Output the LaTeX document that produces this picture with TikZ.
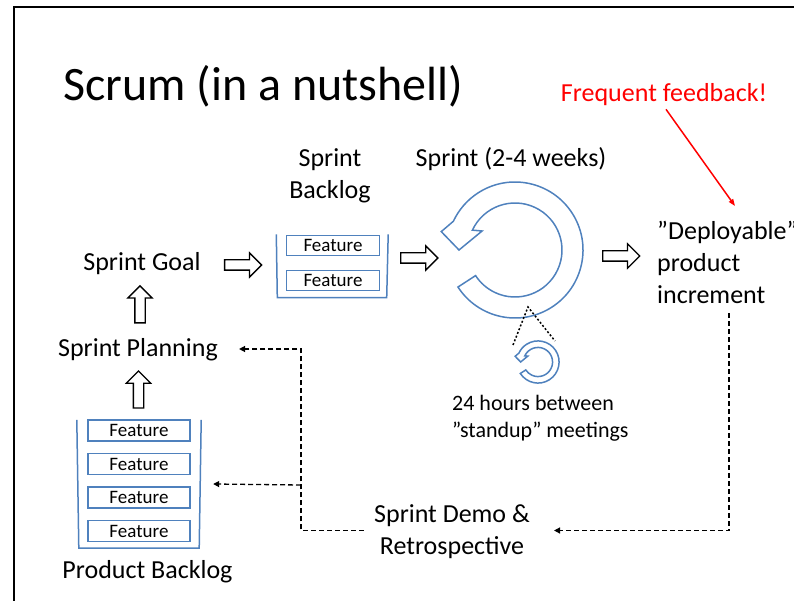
\documentclass[tikz,border=0pt]{standalone}
\usepackage{fontspec}
\setmainfont{Carlito}
\usetikzlibrary{arrows.meta, shapes.arrows, positioning, calc}

\definecolor{sprintblue}{RGB}{79,129,189}

\begin{document}
\begin{tikzpicture}[x=1pt, y=-1pt,
  txt/.style={inner sep=3pt, font=\fontsize{26}{32}\selectfont, align=center},
  feature/.style={draw=sprintblue, line width=1.5pt, minimum width=93pt, minimum height=20pt, inner sep=0pt, font=\fontsize{19}{20}\selectfont},
  bigarrow/.style={single arrow, draw, line width=1.3pt, minimum height=37pt, inner xsep=0pt, inner ysep=4.5pt, single arrow head extend=7pt, single arrow head indent=0pt},
  flow/.style={line width=1.3pt, dash pattern=on 5pt off 3pt, -{Triangle[length=6pt, width=6pt]}},
  callout/.style={line width=1.5pt, dash pattern=on 2pt off 2pt},
  cyclearrow/.pic={
    \draw[y=1pt, sprintblue, line width=1.5pt]
      (213:68) arc[start angle=213, end angle=515, radius=68]
      -- (166:76) -- (180:56) -- (150:38) -- (155:47)
      arc[start angle=155, end angle=-147, radius=47] -- cycle;
  }]
  \useasboundingbox (0,0) rectangle (794,601);

  % slide frame
  \draw[line width=1.5pt] (14,601) -- (14,7) -- (794,7);

  \node[anchor=west, inner sep=0pt, font=\fontsize{48}{56}\selectfont] (title) at (63,86) {Scrum (in a nutshell)};
  \node[txt, text=red] (feedback) at (664,95) {Frequent feedback!};

  % sprint goal and sprint backlog
  \node[txt] (goal) at (142,264) {Sprint Goal};
  \node[minimum width=109pt, minimum height=63pt, inner sep=0pt] (sbl) at (332,266) {};
  \node[feature] (sf1) at (333,245.5) {Feature};
  \node[feature, below=13.5pt of sf1] (sf2) {Feature};
  \node[txt] (sbllbl) at (330,176) {Sprint\\Backlog};

  % the sprint itself
  \node[circle, minimum size=136pt, inner sep=0pt] (cyc) at (515,250) {};
  \pic at (cyc) {cyclearrow};
  \node[txt] (sprintlbl) at (511,159) {Sprint (2-4 weeks)};
  \coordinate (standup) at (538,362);
  \pic[scale=0.31] at (standup) {cyclearrow};
  \coordinate (ztip) at (528,307);
  \node[txt, anchor=west, align=left, font=\fontsize{22}{27}\selectfont] (hours) at (449,418) {24 hours between\\”standup” meetings};

  \node[txt, anchor=west, align=left] (deploy) at (654,262) {”Deployable”\\product\\increment};

  % planning and product backlog
  \node[txt] (planning) at (138,350) {Sprint Planning};
  \node[minimum width=120pt, minimum height=128pt, inner sep=0pt] (pb) at (139,484) {};
  \node[feature, minimum width=102pt, minimum height=21pt] (pf1) at (139,430.5) {Feature};
  \node[feature, minimum width=102pt, minimum height=21pt, below=11pt of pf1] (pf2) {Feature};
  \node[feature, minimum width=102pt, minimum height=21pt, below=11pt of pf2] (pf3) {Feature};
  \node[feature, minimum width=102pt, minimum height=21pt, below=11pt of pf3] (pf4) {Feature};
  \node[txt] (pbl) at (147.5,572) {Product Backlog};

  \node[txt] (demo) at (452,532) {Sprint Demo \&\\Retrospective};

  % backlog bins
  \draw[sprintblue, line width=1.5pt] ([xshift=-1pt]sbl.north west) -- (sbl.south west) -- (sbl.south east) -- ([xshift=1.5pt]sbl.north east);
  \draw[sprintblue, line width=1.5pt] ([xshift=-2pt]pb.north west) -- (pb.south west) -- (pb.south east) -- ([xshift=2pt]pb.north east);

  % block arrows
  \node[bigarrow] (a1) at ($(goal.east)!0.5!(sbl.west)$) {};
  \node[bigarrow] (a2) at ($(sbl.east)!0.5!(cyc.west)$) {};
  \node[bigarrow] (a3) at ($(cyc.east)!0.5!(deploy.west)$) {};
  \node[bigarrow, rotate=90] (a4) at ($(planning.north)!0.5!(goal.south)$) {};
  \node[bigarrow, rotate=90] (a5) at ($(pb.north)!0.5!(planning.south)$) {};

  % feedback loop
  \coordinate (dtop) at (729,313);
  \coordinate (turn) at (301,349);
  \coordinate (branch) at (301,485);
  \draw[flow] (dtop) |- ([xshift=21pt, yshift=1.5pt]demo.east);
  \draw[flow] ([xshift=-7pt, yshift=1.5pt]demo.west) -| (turn) -- ([xshift=18pt, yshift=1pt]planning.east);
  \draw[flow] (branch) -- ([xshift=14pt]pb.east);

  \coordinate (fbtip) at (735,206);
  \draw[red, line width=1.5pt, -{Triangle[length=7pt, width=5pt]}] ([xshift=2pt]feedback.south) -- (fbtip);

  \draw[callout] ($(standup)+(-25,-17)$) -- (ztip) -- ($(standup)+(17,-21)$);
\end{tikzpicture}
\end{document}
